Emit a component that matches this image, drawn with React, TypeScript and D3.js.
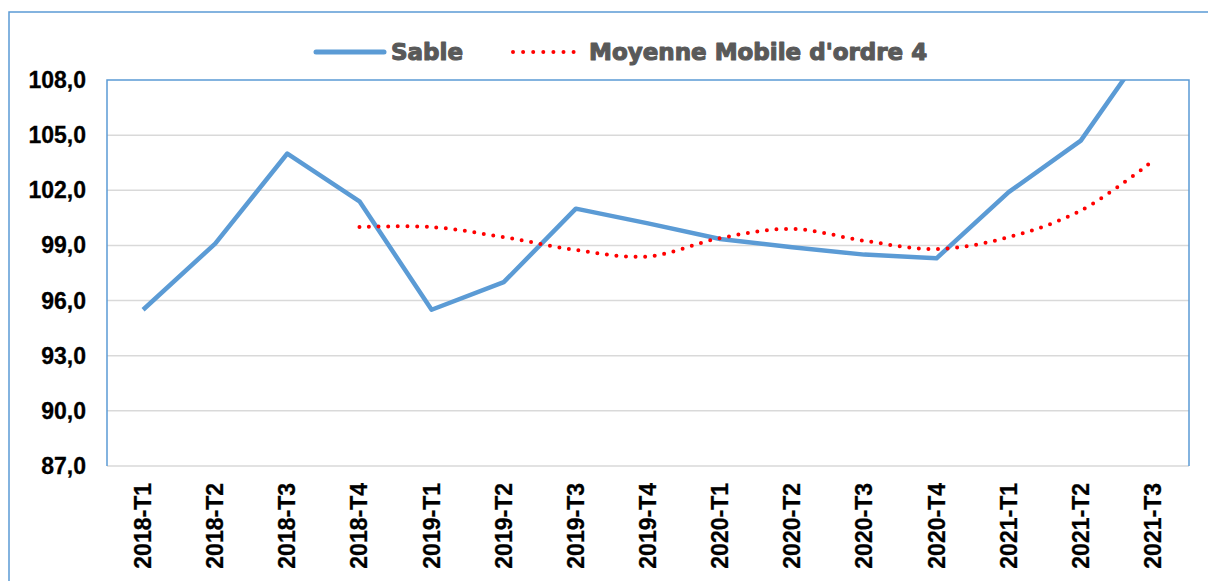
import React, { useEffect, useRef } from "react";
import * as d3 from "d3";

const categories = [
  "2018-T1", "2018-T2", "2018-T3", "2018-T4",
  "2019-T1", "2019-T2", "2019-T3", "2019-T4",
  "2020-T1", "2020-T2", "2020-T3", "2020-T4",
  "2021-T1", "2021-T2", "2021-T3",
];
const sable = [95.5, 99.1, 104.0, 101.4, 95.5, 97.0, 101.0, 100.2, 99.35, 98.9, 98.5, 98.3, 101.9, 104.7, 110.3];
const moyenne: (number | null)[] = [null, null, null, 100.0, 100.0, 99.45, 98.75, 98.4, 99.4, 99.9, 99.25, 98.8, 99.45, 100.9, 103.6];
const yTicks = [87, 90, 93, 96, 99, 102, 105, 108];
const legendLabels = ["Sable", "Moyenne Mobile d'ordre 4"];

const W = 1208, H = 581;
const plot = { left: 107, top: 80, right: 1189, bottom: 466 };
const BLUE = "#5B9BD5";
const RED = "#FF0000";
const GRID = "#D9D9D9";
const TXT = "#000000";
const LEG = "#595959";

export default function App() {
  const ref = useRef<SVGSVGElement>(null);
  useEffect(() => {
    const svg = d3.select(ref.current);
    svg.selectAll("*").remove();
    const x = d3.scaleBand().domain(categories).range([plot.left, plot.right]);
    const y = d3.scaleLinear().domain([87, 108]).range([plot.bottom, plot.top]);
    const cx = (c: string) => (x(c) as number) + x.bandwidth() / 2;

    svg.append("rect").attr("x", 0).attr("y", 0).attr("width", W).attr("height", H).attr("fill", "#fff");
    // outer frame
    svg.append("rect").attr("x", 9).attr("y", 12).attr("width", 1210).attr("height", 600)
      .attr("fill", "none").attr("stroke", BLUE).attr("stroke-width", 1.5);

    svg.append("defs").append("clipPath").attr("id", "clipPlot").append("rect")
      .attr("x", plot.left).attr("y", plot.top).attr("width", plot.right - plot.left).attr("height", plot.bottom - plot.top);

    // gridlines
    svg.append("g").selectAll("line").data(yTicks.filter(t => t !== 108)).join("line")
      .attr("x1", plot.left).attr("x2", plot.right)
      .attr("y1", d => y(d)).attr("y2", d => y(d))
      .attr("stroke", GRID).attr("stroke-width", 1.5);

    // plot border (blue) left, top, right
    svg.append("path")
      .attr("d", `M${plot.left},${plot.bottom}V${plot.top}H${plot.right}V${plot.bottom}`)
      .attr("fill", "none").attr("stroke", BLUE).attr("stroke-width", 1.5);

    // y labels
    svg.append("g").selectAll("text").data(yTicks).join("text")
      .attr("x", 86).attr("y", d => y(d)).attr("dy", "0.35em")
      .attr("text-anchor", "end")
      .attr("font-family", "Liberation Sans, Arial, sans-serif").attr("font-weight", "bold")
      .attr("font-size", 23).attr("fill", TXT)
      .attr("stroke", TXT).attr("stroke-width", 0.3)
      .text(d => d.toFixed(1).replace(".", ","));

    // x labels
    svg.append("g").selectAll("text").data(categories).join("text")
      .attr("transform", d => `translate(${cx(d) + 8},${plot.bottom + 17}) rotate(-90)`)
      .attr("text-anchor", "end")
      .attr("font-family", "Liberation Sans, Arial, sans-serif").attr("font-weight", "bold")
      .attr("font-size", 23).attr("fill", TXT)
      .attr("stroke", TXT).attr("stroke-width", 0.3)
      .text(d => d);

    // Sable line
    const line = d3.line<number>().x((_, i) => cx(categories[i])).y(d => y(d));
    svg.append("path").datum(sable).attr("d", line)
      .attr("clip-path", "url(#clipPlot)")
      .attr("fill", "none").attr("stroke", BLUE).attr("stroke-width", 4.5)
      .attr("stroke-linejoin", "round");

    // moving average
    const maPts = moyenne.map((v, i) => ({ v, c: categories[i] })).filter(d => d.v !== null) as { v: number; c: string }[];
    const mline = d3.line<{ v: number; c: string }>().x(d => cx(d.c)).y(d => y(d.v)).curve(d3.curveCatmullRom.alpha(0.5));
    svg.append("path").datum(maPts).attr("d", mline)
      .attr("fill", "none").attr("stroke", RED).attr("stroke-width", 4)
      .attr("stroke-linecap", "round").attr("stroke-dasharray", "0 9.6");

    // legend
    const lg = svg.append("g");
    lg.append("line").attr("x1", 316).attr("x2", 384).attr("y1", 52).attr("y2", 52)
      .attr("stroke", BLUE).attr("stroke-width", 5).attr("stroke-linecap", "round");
    lg.append("text").attr("x", 391).attr("y", 60)
      .attr("font-family", "DejaVu Sans, sans-serif").attr("font-weight", "bold")
      .attr("font-size", 23).attr("fill", LEG)
      .attr("stroke", LEG).attr("stroke-width", 1.1).attr("stroke-linejoin", "round")
      .text(legendLabels[0]);
    lg.append("line").attr("x1", 513).attr("x2", 574).attr("y1", 52).attr("y2", 52)
      .attr("stroke", RED).attr("stroke-width", 4).attr("stroke-linecap", "round")
      .attr("stroke-dasharray", "0 10.1");
    lg.append("text").attr("x", 589).attr("y", 60)
      .attr("font-family", "DejaVu Sans, sans-serif").attr("font-weight", "bold")
      .attr("font-size", 23).attr("fill", LEG)
      .attr("stroke", LEG).attr("stroke-width", 1.1).attr("stroke-linejoin", "round")
      .text(legendLabels[1]);
  }, []);
  return (
    <div style={{ position: "absolute", left: 0, top: 0 }}>
      <svg ref={ref} width={W} height={H} style={{ display: "block" }} />
    </div>
  );
}
